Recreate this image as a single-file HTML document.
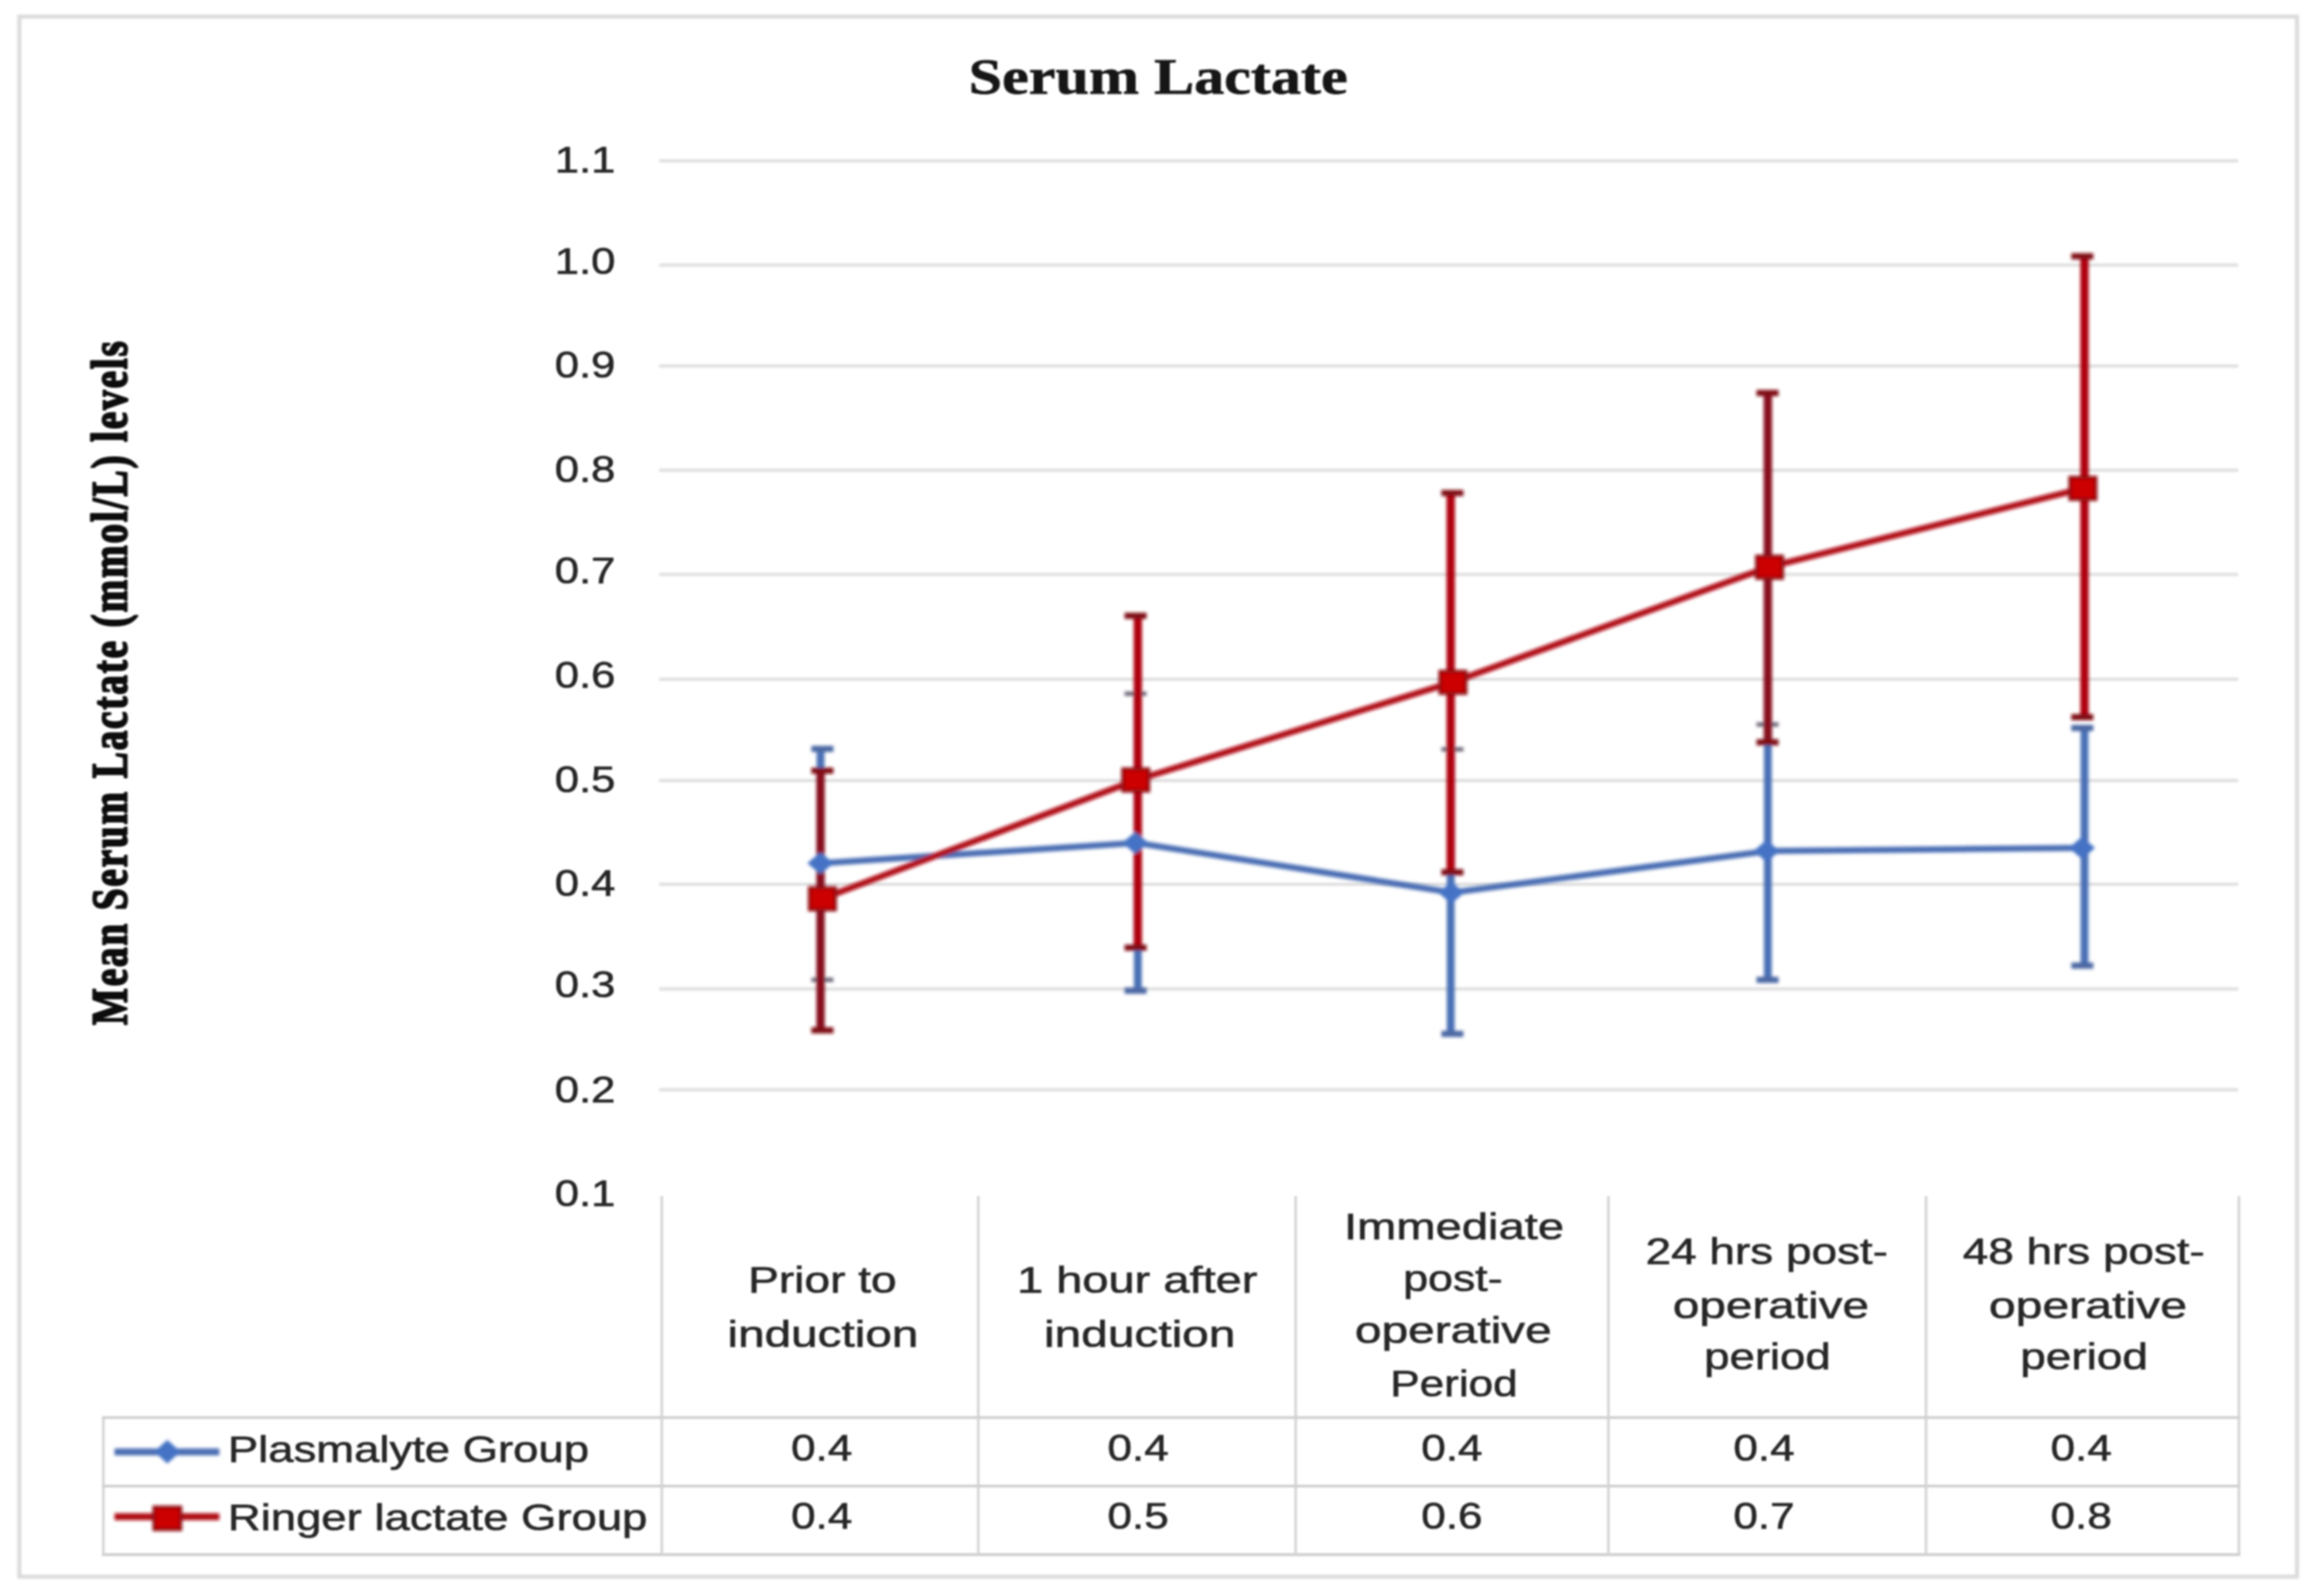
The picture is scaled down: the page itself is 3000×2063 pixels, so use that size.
<!DOCTYPE html>
<html><head><meta charset="utf-8"><title>Serum Lactate</title>
<style>html,body{margin:0;padding:0;background:#fff;overflow:hidden;}svg{display:block;}text{font-family:"Liberation Sans",sans-serif;}.s{font-family:"Liberation Serif",serif;font-weight:bold;}</style>
</head><body>
<svg width="3000" height="2063" viewBox="0 0 3000 2063">
<defs><filter id="b" x="0" y="0" width="3000" height="2063" filterUnits="userSpaceOnUse"><feGaussianBlur stdDeviation="2.0"/></filter><filter id="m" x="0" y="0" width="3000" height="2063" filterUnits="userSpaceOnUse"><feGaussianBlur stdDeviation="1.0"/></filter><filter id="t" x="0" y="0" width="3000" height="2063" filterUnits="userSpaceOnUse"><feGaussianBlur stdDeviation="1.1"/></filter></defs>
<rect x="0" y="0" width="3000" height="2063" fill="#ffffff"/>
<g filter="url(#t)">
<rect x="25" y="21.5" width="2944" height="2016.5" fill="none" stroke="#dadada" stroke-width="5.2" filter="url(#m)"/>
<g stroke="#dfdfdf" stroke-width="4.2" filter="url(#m)">
<line x1="852" x2="2893" y1="207.8" y2="207.8"/>
<line x1="852" x2="2893" y1="342.7" y2="342.7"/>
<line x1="852" x2="2893" y1="473.2" y2="473.2"/>
<line x1="852" x2="2893" y1="607.8" y2="607.8"/>
<line x1="852" x2="2893" y1="742.5" y2="742.5"/>
<line x1="852" x2="2893" y1="878.0" y2="878.0"/>
<line x1="852" x2="2893" y1="1008.8" y2="1008.8"/>
<line x1="852" x2="2893" y1="1143.0" y2="1143.0"/>
<line x1="852" x2="2893" y1="1278.3" y2="1278.3"/>
<line x1="852" x2="2893" y1="1408.7" y2="1408.7"/>
</g>
<g stroke="#d9d9d9" stroke-width="3.8" fill="none">
<line x1="855.4" x2="855.4" y1="1546" y2="2009.5"/>
<line x1="1264.5" x2="1264.5" y1="1546" y2="2009.5"/>
<line x1="1674.7" x2="1674.7" y1="1546" y2="2009.5"/>
<line x1="2079.0" x2="2079.0" y1="1546" y2="2009.5"/>
<line x1="2489.5" x2="2489.5" y1="1546" y2="2009.5"/>
<line x1="2893.9" x2="2893.9" y1="1546" y2="2009.5"/>
<line x1="133.6" x2="133.6" y1="1832.3" y2="2009.5"/>
</g>
<g stroke="#d2d2d2" stroke-width="3.8" fill="none">
<line x1="131.7" x2="2895.8" y1="1832.3" y2="1832.3"/>
<line x1="131.7" x2="2895.8" y1="1920.8" y2="1920.8"/>
<line x1="131.7" x2="2895.8" y1="2009.5" y2="2009.5"/>
</g>
</g>
<g filter="url(#b)">
<line x1="148" x2="283.5" y1="1876.7" y2="1876.7" stroke="#4a6db3" stroke-width="9"/>
<polygon points="200.8,1876.4 216.3,1862.4 231.8,1876.4 216.3,1890.4" fill="#4472c4" stroke="#4472c4" stroke-width="2" stroke-linejoin="round"/>
<line x1="148" x2="283.5" y1="1960.4" y2="1960.4" stroke="#b00716" stroke-width="9"/>
<rect x="199.05" y="1948.1" width="34.5" height="29" fill="#cc0000" stroke="#8f0d16" stroke-width="4"/>
<line x1="1060.6" x2="1060.6" y1="968.0" y2="1266.5" stroke="#4a6fb5" stroke-width="10.2"/>
<line x1="1048.75" x2="1077.25" y1="968.0" y2="968.0" stroke="#4c68a3" stroke-width="8.0"/>
<line x1="1048.75" x2="1077.25" y1="1266.5" y2="1266.5" stroke="#6c6476" stroke-width="5.5"/>
<line x1="1470.7" x2="1470.7" y1="896.7" y2="1280.6" stroke="#4a6fb5" stroke-width="10.2"/>
<line x1="1453.55" x2="1482.05" y1="896.7" y2="896.7" stroke="#6c6476" stroke-width="5.5"/>
<line x1="1453.55" x2="1482.05" y1="1280.6" y2="1280.6" stroke="#4c68a3" stroke-width="8.0"/>
<line x1="1875.1" x2="1875.1" y1="968.6" y2="1336.4" stroke="#4a6fb5" stroke-width="10.2"/>
<line x1="1863.05" x2="1891.55" y1="968.6" y2="968.6" stroke="#6c6476" stroke-width="5.5"/>
<line x1="1863.05" x2="1891.55" y1="1336.4" y2="1336.4" stroke="#4c68a3" stroke-width="8.0"/>
<line x1="2285.0" x2="2285.0" y1="936.5" y2="1266.6" stroke="#4a6fb5" stroke-width="10.2"/>
<line x1="2270.35" x2="2298.85" y1="936.5" y2="936.5" stroke="#6c6476" stroke-width="5.5"/>
<line x1="2270.35" x2="2298.85" y1="1266.6" y2="1266.6" stroke="#4c68a3" stroke-width="8.0"/>
<line x1="2694.3" x2="2694.3" y1="941.0" y2="1248.2" stroke="#4a6fb5" stroke-width="10.2"/>
<line x1="2677.25" x2="2705.75" y1="941.0" y2="941.0" stroke="#4c68a3" stroke-width="8.0"/>
<line x1="2677.25" x2="2705.75" y1="1248.2" y2="1248.2" stroke="#4c68a3" stroke-width="8.0"/>
<line x1="1060.6" x2="1060.6" y1="996.2" y2="1331.8" stroke="#86101a" stroke-width="10.8"/>
<line x1="1048.75" x2="1077.25" y1="996.2" y2="996.2" stroke="#7f0d17" stroke-width="8.0"/>
<line x1="1048.75" x2="1077.25" y1="1331.8" y2="1331.8" stroke="#7f0d17" stroke-width="8.0"/>
<line x1="1470.7" x2="1470.7" y1="796.0" y2="1225.0" stroke="#ae000c" stroke-width="10.8"/>
<line x1="1453.55" x2="1482.05" y1="796.0" y2="796.0" stroke="#7f0d17" stroke-width="8.0"/>
<line x1="1453.55" x2="1482.05" y1="1225.0" y2="1225.0" stroke="#7f0d17" stroke-width="8.0"/>
<line x1="1875.1" x2="1875.1" y1="637.3" y2="1127.5" stroke="#ae000c" stroke-width="10.8"/>
<line x1="1863.05" x2="1891.55" y1="637.3" y2="637.3" stroke="#7f0d17" stroke-width="8.0"/>
<line x1="1863.05" x2="1891.55" y1="1127.5" y2="1127.5" stroke="#7f0d17" stroke-width="8.0"/>
<line x1="2285.0" x2="2285.0" y1="508.0" y2="959.5" stroke="#86101a" stroke-width="10.8"/>
<line x1="2270.35" x2="2298.85" y1="508.0" y2="508.0" stroke="#7f0d17" stroke-width="8.0"/>
<line x1="2270.35" x2="2298.85" y1="959.5" y2="959.5" stroke="#7f0d17" stroke-width="8.0"/>
<line x1="2694.3" x2="2694.3" y1="331.3" y2="927.0" stroke="#ae000c" stroke-width="10.8"/>
<line x1="2677.25" x2="2705.75" y1="331.3" y2="331.3" stroke="#7f0d17" stroke-width="8.0"/>
<line x1="2677.25" x2="2705.75" y1="927.0" y2="927.0" stroke="#7f0d17" stroke-width="8.0"/>
<polyline points="1062.4,1115.8 1468.9,1089.5 1877.0,1153.7 2285.5,1100.0 2692.0,1096.0" fill="none" stroke="#4a6db3" stroke-width="8" stroke-linejoin="round"/>
<polygon points="1045.0,1115.8 1060.5,1102.8 1076.0,1115.8 1060.5,1128.8" fill="#4472c4" stroke="#4472c4" stroke-width="2" stroke-linejoin="round"/>
<polygon points="1452.0,1089.5 1467.5,1076.5 1483.0,1089.5 1467.5,1102.5" fill="#4472c4" stroke="#4472c4" stroke-width="2" stroke-linejoin="round"/>
<polygon points="1860.4,1153.7 1875.9,1140.7 1891.4,1153.7 1875.9,1166.7" fill="#4472c4" stroke="#4472c4" stroke-width="2" stroke-linejoin="round"/>
<polygon points="2268.0,1100.0 2283.5,1087.0 2299.0,1100.0 2283.5,1113.0" fill="#4472c4" stroke="#4472c4" stroke-width="2" stroke-linejoin="round"/>
<polygon points="2675.5,1096.0 2691.0,1083.0 2706.5,1096.0 2691.0,1109.0" fill="#4472c4" stroke="#4472c4" stroke-width="2" stroke-linejoin="round"/>
<polyline points="1062.4,1161.8 1468.9,1008.2 1877.0,882.0 2285.5,733.2 2692.0,631.3" fill="none" stroke="#b00716" stroke-width="8" stroke-linejoin="round"/>
<rect x="1046.25" y="1147.55" width="33.5" height="28.5" fill="#cc0000" stroke="#8f0d16" stroke-width="4"/>
<rect x="1451.25" y="993.95" width="33.5" height="28.5" fill="#cc0000" stroke="#8f0d16" stroke-width="4"/>
<rect x="1861.25" y="867.75" width="33.5" height="28.5" fill="#cc0000" stroke="#8f0d16" stroke-width="4"/>
<rect x="2270.45" y="718.95" width="33.5" height="28.5" fill="#cc0000" stroke="#8f0d16" stroke-width="4"/>
<rect x="2675.45" y="617.05" width="33.5" height="28.5" fill="#cc0000" stroke="#8f0d16" stroke-width="4"/>
</g>
<g filter="url(#t)">
<g fill="#262626" stroke="#262626" stroke-width="0.7" stroke-linejoin="round" font-size="48">
<text x="717" y="222.7" textLength="78.5" lengthAdjust="spacingAndGlyphs">1.1</text>
<text x="717" y="354.3" textLength="78.5" lengthAdjust="spacingAndGlyphs">1.0</text>
<text x="717" y="488.2" textLength="78.5" lengthAdjust="spacingAndGlyphs">0.9</text>
<text x="717" y="623.3" textLength="78.5" lengthAdjust="spacingAndGlyphs">0.8</text>
<text x="717" y="753.7" textLength="78.5" lengthAdjust="spacingAndGlyphs">0.7</text>
<text x="717" y="888.5" textLength="78.5" lengthAdjust="spacingAndGlyphs">0.6</text>
<text x="717" y="1023.8" textLength="78.5" lengthAdjust="spacingAndGlyphs">0.5</text>
<text x="717" y="1158.3" textLength="78.5" lengthAdjust="spacingAndGlyphs">0.4</text>
<text x="717" y="1288.9" textLength="78.5" lengthAdjust="spacingAndGlyphs">0.3</text>
<text x="717" y="1424.5" textLength="78.5" lengthAdjust="spacingAndGlyphs">0.2</text>
<text x="717" y="1559.2" textLength="78.5" lengthAdjust="spacingAndGlyphs">0.1</text>
<text x="967.0" y="1671.0" textLength="192.0" lengthAdjust="spacingAndGlyphs">Prior to</text>
<text x="940.3" y="1741.3" textLength="246.7" lengthAdjust="spacingAndGlyphs">induction</text>
<text x="1314.5" y="1671.0" textLength="310.8" lengthAdjust="spacingAndGlyphs">1 hour after</text>
<text x="1349.4" y="1741.3" textLength="247.5" lengthAdjust="spacingAndGlyphs">induction</text>
<text x="1737.2" y="1601.6" textLength="284.4" lengthAdjust="spacingAndGlyphs">Immediate</text>
<text x="1813.7" y="1668.7" textLength="128.5" lengthAdjust="spacingAndGlyphs">post-</text>
<text x="1751.3" y="1735.7" textLength="254.4" lengthAdjust="spacingAndGlyphs">operative</text>
<text x="1797.1" y="1805.2" textLength="164.5" lengthAdjust="spacingAndGlyphs">Period</text>
<text x="2127.1" y="1634.0" textLength="313.2" lengthAdjust="spacingAndGlyphs">24 hrs post-</text>
<text x="2162.3" y="1703.5" textLength="253.4" lengthAdjust="spacingAndGlyphs">operative</text>
<text x="2202.7" y="1770.0" textLength="163.6" lengthAdjust="spacingAndGlyphs">period</text>
<text x="2537.1" y="1634.0" textLength="312.7" lengthAdjust="spacingAndGlyphs">48 hrs post-</text>
<text x="2570.7" y="1703.5" textLength="256.1" lengthAdjust="spacingAndGlyphs">operative</text>
<text x="2611.2" y="1770.0" textLength="165.1" lengthAdjust="spacingAndGlyphs">period</text>
<text x="1022.4" y="1887.8" textLength="79.2" lengthAdjust="spacingAndGlyphs">0.4</text>
<text x="1431.4" y="1887.8" textLength="79.2" lengthAdjust="spacingAndGlyphs">0.4</text>
<text x="1837.1" y="1887.8" textLength="79.2" lengthAdjust="spacingAndGlyphs">0.4</text>
<text x="2240.4" y="1887.8" textLength="79.2" lengthAdjust="spacingAndGlyphs">0.4</text>
<text x="2650.4" y="1887.8" textLength="79.2" lengthAdjust="spacingAndGlyphs">0.4</text>
<text x="1022.4" y="1976.0" textLength="79.2" lengthAdjust="spacingAndGlyphs">0.4</text>
<text x="1431.4" y="1976.0" textLength="79.2" lengthAdjust="spacingAndGlyphs">0.5</text>
<text x="1837.1" y="1976.0" textLength="79.2" lengthAdjust="spacingAndGlyphs">0.6</text>
<text x="2240.4" y="1976.0" textLength="79.2" lengthAdjust="spacingAndGlyphs">0.7</text>
<text x="2650.4" y="1976.0" textLength="79.2" lengthAdjust="spacingAndGlyphs">0.8</text>
<text x="294.5" y="1889.5" textLength="466.8" lengthAdjust="spacingAndGlyphs">Plasmalyte Group</text>
<text x="294.5" y="1978.0" textLength="542.3" lengthAdjust="spacingAndGlyphs">Ringer lactate Group</text>
</g>
<text class="s" x="1252" y="121" font-size="66.5" fill="#141414" stroke="#141414" stroke-width="0.8" textLength="490" lengthAdjust="spacingAndGlyphs">Serum Lactate</text>
<text class="s" transform="translate(163.2,1325) rotate(-90) scale(1,1.28)" font-size="50.5" fill="#0c0c0c" stroke="#0c0c0c" stroke-width="2.0" stroke-linejoin="round" textLength="884" lengthAdjust="spacing">Mean Serum Lactate (mmol/L) levels</text>
</g>
</svg>
</body></html>
